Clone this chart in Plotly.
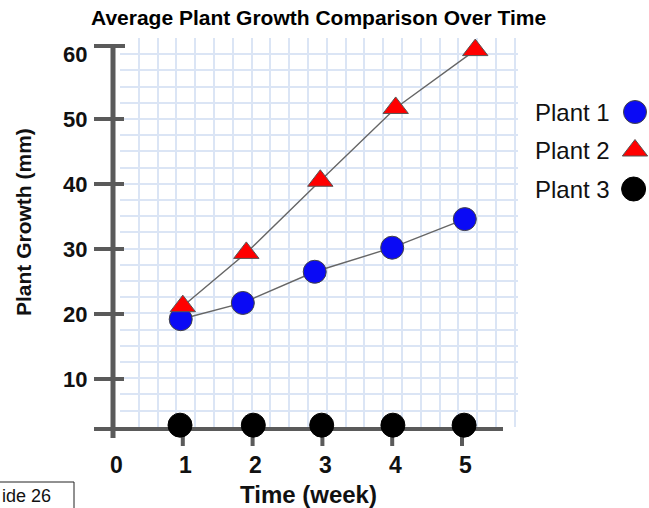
import plotly.graph_objects as go

# ---------------- data ----------------
series_names = ["Plant 1", "Plant 2", "Plant 3"]
weeks_p1 = [0.97, 1.86, 2.89, 4.00, 5.04]
growth_p1 = [19.2, 21.7, 26.5, 30.2, 34.6]
weeks_p2 = [1.00, 1.91, 2.97, 4.05, 5.19]
growth_p2 = [21.2, 29.4, 40.5, 51.7, 60.6]
weeks_p3 = [0.96, 2.01, 2.99, 4.01, 5.03]
growth_p3 = [2.9, 2.9, 2.9, 2.9, 2.9]
x_tick_vals = [0, 1, 2, 3, 4, 5]
y_tick_vals = [10, 20, 30, 40, 50, 60]

# ---------------- geometry / style ----------------
W, H = 649, 508
X0PX, XPX = 113.0, 69.8     # pixel of week 0, pixels per week
Y0PX, YPX = 444.0, 6.5      # pixel of 0 mm, pixels per mm


def fx(px):
    return (px - X0PX) / XPX


def fy(px):
    return (Y0PX - px) / YPX


FONT = "Liberation Sans, Arial, sans-serif"
AX = "#5a5a5a"
GRID = "#dbe5f5"
BLUE, RED, BLACK = "#0a0af5", "#ff0000", "#000000"

fig = go.Figure()

# graph-paper grid subplot (x / y)
GX0, GDX = 120.0, 18.8
GY0, GDY = 38.0, 16.2
gx_range = [-0.02, 21.17]
gy_range = [24.02, -0.02]
fig.add_trace(go.Scatter(x=[None], y=[None], xaxis="x", yaxis="y",
                         showlegend=False, hoverinfo="skip"))

# data traces (x2 / y2)
fig.add_trace(go.Scatter(
    x=weeks_p1, y=growth_p1, mode="lines+markers", name=series_names[0],
    xaxis="x2", yaxis="y2",
    line=dict(color="#666666", width=1.4),
    marker=dict(symbol="circle", size=23, color=BLUE, opacity=1,
                line=dict(color="#444444", width=1))))
fig.add_trace(go.Scatter(
    x=weeks_p2, y=growth_p2, mode="lines+markers", name=series_names[1],
    xaxis="x2", yaxis="y2",
    line=dict(color="#666666", width=1.4),
    marker=dict(symbol="triangle-up", size=22, color=RED, opacity=1,
                line=dict(color="#555555", width=1))))
fig.add_trace(go.Scatter(
    x=weeks_p3, y=growth_p3, mode="markers", name=series_names[2],
    xaxis="x2", yaxis="y2",
    marker=dict(symbol="circle", size=24, color=BLACK, opacity=1,
                line=dict(color=BLACK, width=1))))

# custom legend (text left, marker right) on x3 / y3
legend_rows = [0, 1, 2]
fig.add_trace(go.Scatter(
    x=[0.5, 0.5, 0.45], y=legend_rows, mode="markers", xaxis="x3", yaxis="y3",
    showlegend=False, hoverinfo="skip",
    marker=dict(symbol=["circle", "triangle-up", "circle"], size=[23, 22, 24],
                color=[BLUE, RED, BLACK], opacity=1,
                line=dict(color=["#444444", "#555555", BLACK], width=1))))

shapes = []
# y axis line
shapes.append(dict(type="line", xref="x2", yref="y2", x0=0, x1=0,
                   y0=fy(46), y1=fy(438), line=dict(color=AX, width=5), layer="below"))
# top cap
shapes.append(dict(type="line", xref="x2", yref="y2", x0=fx(94), x1=fx(125),
                   y0=fy(46), y1=fy(46), line=dict(color=AX, width=4), layer="below"))
# y ticks
for v in y_tick_vals[:-1]:
    shapes.append(dict(type="line", xref="x2", yref="y2", x0=fx(94), x1=fx(124),
                       y0=v, y1=v, line=dict(color=AX, width=4), layer="below"))
# x axis line
shapes.append(dict(type="line", xref="x2", yref="y2", x0=fx(94), x1=fx(503),
                   y0=fy(429), y1=fy(429), line=dict(color=AX, width=4), layer="below"))
# x ticks
for v in x_tick_vals[1:]:
    shapes.append(dict(type="line", xref="x2", yref="y2", x0=v, x1=v,
                       y0=fy(429), y1=fy(446), line=dict(color=AX, width=4), layer="below"))
# slide-number box
shapes.append(dict(type="rect", xref="paper", yref="paper", x0=-0.01, x1=74 / W,
                   y0=-0.01, y1=1 - 482 / H, line=dict(color="#222222", width=1),
                   fillcolor="white", layer="above"))

annotations = []
annotations.append(dict(text="<b>Average Plant Growth Comparison Over Time</b>",
                        xref="paper", yref="paper", x=318 / W, y=1 - 17 / H,
                        xanchor="center", yanchor="middle", showarrow=False,
                        font=dict(family=FONT, size=21, color="black")))
for v in y_tick_vals:
    annotations.append(dict(text=f"<b>{v}</b>", xref="x2", yref="y2", x=0, y=v,
                            xshift=-24, xanchor="right", yanchor="middle",
                            showarrow=False,
                            font=dict(family=FONT, size=22, color="#111111")))
for v in x_tick_vals:
    annotations.append(dict(text=f"<b>{v}</b>", xref="x2", yref="y2", x=v, y=fy(465),
                            xshift=3, xanchor="center", yanchor="middle", showarrow=False,
                            font=dict(family=FONT, size=23, color="#111111")))
annotations.append(dict(text="<b>Time (week)</b>", xref="paper", yref="paper",
                        x=308 / W, y=1 - 494 / H, xanchor="center", yanchor="middle",
                        showarrow=False, font=dict(family=FONT, size=24, color="#111111")))
annotations.append(dict(text="<b>Plant Growth (mm)</b>", xref="paper", yref="paper",
                        x=23 / W, y=1 - 222 / H, xanchor="center", yanchor="middle",
                        textangle=-90, showarrow=False,
                        font=dict(family=FONT, size=21, color="#111111")))
for i, name in enumerate(series_names):
    annotations.append(dict(text=name, xref="paper", yref="y3", x=612 / W, y=legend_rows[i],
                            xanchor="right", yanchor="middle", showarrow=False,
                            font=dict(family=FONT, size=24, color="#111111")))
annotations.append(dict(text="ide 26", xref="paper", yref="paper", x=0, y=1 - 496 / H,
                        xanchor="left", yanchor="middle", showarrow=False,
                        font=dict(family=FONT, size=18, color="#111111")))

hidden = dict(visible=False, showgrid=False, zeroline=False, fixedrange=True)

fig.update_layout(
    width=W, height=H, margin=dict(l=0, r=0, t=0, b=0),
    paper_bgcolor="white", plot_bgcolor="rgba(0,0,0,0)", showlegend=False,
    xaxis=dict(range=gx_range, domain=[(GX0 + gx_range[0] * GDX) / W, (GX0 + gx_range[1] * GDX) / W],
               dtick=1, tick0=0, showgrid=True, gridcolor=GRID, gridwidth=1.5,
               showticklabels=False, ticks="", showline=False, zeroline=False,
               anchor="y", fixedrange=True),
    yaxis=dict(range=gy_range,
               domain=[1 - (GY0 + gy_range[0] * GDY) / H, 1 - (GY0 + gy_range[1] * GDY) / H],
               dtick=1, tick0=0, showgrid=True, gridcolor=GRID, gridwidth=1.5,
               showticklabels=False, ticks="", showline=False, zeroline=False,
               anchor="x", fixedrange=True),
    xaxis2=dict(range=[fx(0), fx(W)], domain=[0, 1], anchor="y2", **hidden),
    yaxis2=dict(range=[fy(H), fy(0)], domain=[0, 1], anchor="x2", **hidden),
    xaxis3=dict(range=[0, 1], domain=[621 / W, 649 / W], anchor="y3", **hidden),
    yaxis3=dict(range=[2.5, -0.5], domain=[1 - (189 + 19.25) / H, 1 - (112 - 19.25) / H],
                anchor="x3", **hidden),
    shapes=shapes, annotations=annotations,
)

fig.write_html("out.html")
